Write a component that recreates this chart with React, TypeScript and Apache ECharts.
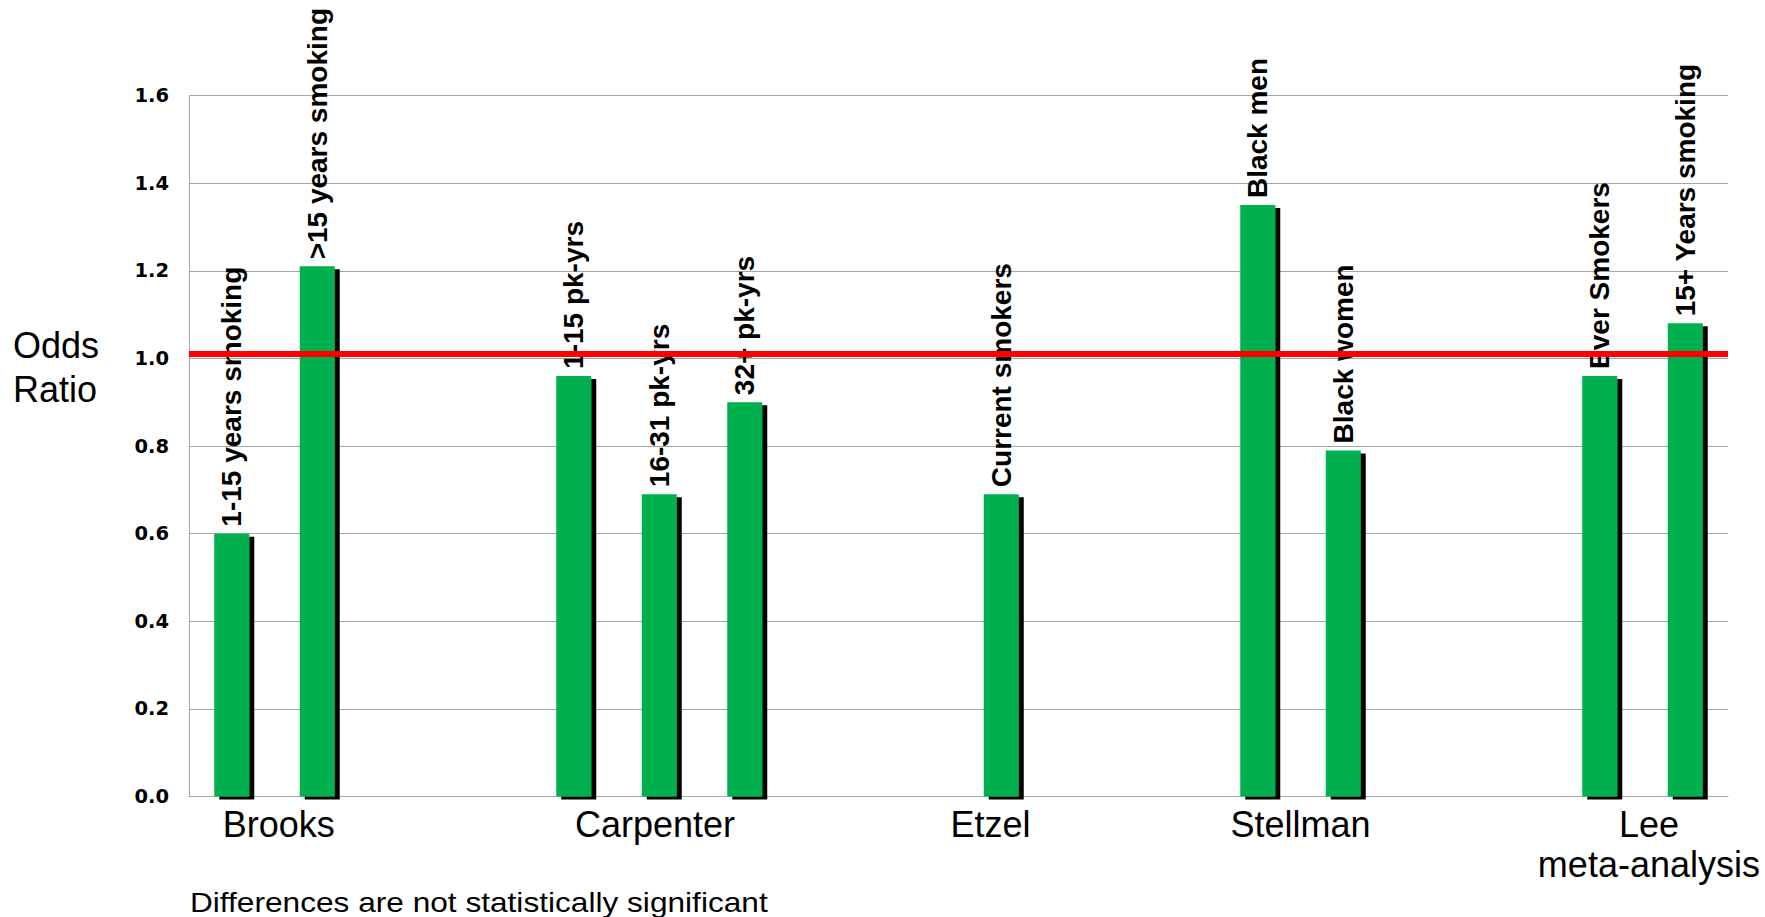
import React, { useEffect, useRef } from 'react';
import * as echarts from 'echarts';

// One slot per bar position along the x axis (gaps have no value)
const slotLabels = [
  '1-15 years smoking', '>15 years smoking', 'gap-1', 'gap-2',
  '1-15 pk-yrs', '16-31 pk-yrs', '32+ pk-yrs', 'gap-3', 'gap-4',
  'Current smokers', 'gap-5', 'gap-6',
  'Black men', 'Black women', 'gap-7', 'gap-8',
  'Ever Smokers', '15+ Years smoking',
];
const oddsRatios = [
  0.60, 1.21, null, null,
  0.96, 0.69, 0.90, null, null,
  0.69, null, null,
  1.35, 0.79, null, null,
  0.96, 1.08,
];

// Study group labels and where they sit, in slot units
const studyNames = ['Brooks', 'Carpenter', 'Etzel', 'Stellman', 'Lee\nmeta-analysis'];
const studyCenters = [1.05, 5.45, 9.375, 13, 17.075];

const yTicks = { min: 0, max: 1.6, step: 0.2 };
const referenceOR = 1.008;

const App: React.FC = () => {
  const ref = useRef<HTMLDivElement>(null);

  useEffect(() => {
    document.body.style.margin = '0';
    document.body.style.overflow = 'hidden';
    if (!ref.current) return;
    const chart = echarts.init(ref.current, undefined, { renderer: 'svg' });
    const arial = "'Liberation Sans', Arial, sans-serif";
    chart.setOption({
      animation: false,
      backgroundColor: '#ffffff',
      grid: { left: 189, right: 37, top: 95.5, bottom: 120.5, containLabel: false },
      xAxis: [
        {
          type: 'category',
          data: slotLabels,
          axisLine: { show: true, lineStyle: { color: '#a6a6a6', width: 1 } },
          axisTick: { show: false },
          axisLabel: { show: false },
          splitLine: { show: false },
        },
        {
          type: 'value',
          position: 'bottom',
          min: 0,
          max: slotLabels.length,
          interval: 0.025,
          axisLine: { show: false },
          axisTick: { show: false },
          splitLine: { show: false },
          axisLabel: {
            show: true,
            showMinLabel: true,
            showMaxLabel: true,
            margin: 8,
            fontFamily: arial,
            fontSize: 36,
            lineHeight: 40,
            color: '#000',
            verticalAlign: 'top',
            formatter: (v: number) => {
              const i = studyCenters.findIndex((c) => Math.abs(c - v) < 1e-6);
              return i >= 0 ? studyNames[i] : '';
            },
          },
        },
      ],
      yAxis: {
        type: 'value',
        min: yTicks.min,
        max: yTicks.max,
        interval: yTicks.step,
        axisLine: { show: true, lineStyle: { color: '#a6a6a6', width: 1 } },
        axisTick: { show: false },
        splitLine: { show: true, lineStyle: { color: '#a6a6a6', width: 1 } },
        axisLabel: {
          margin: 20,
          fontFamily: "'DejaVu Sans', sans-serif",
          fontWeight: 'bold',
          fontSize: 19.5,
          color: '#000',
          formatter: (v: number) => v.toFixed(1),
        },
      },
      series: [
        {
          type: 'bar',
          xAxisIndex: 0,
          yAxisIndex: 0,
          data: oddsRatios,
          barWidth: 35,
          itemStyle: {
            color: '#00b050',
            shadowColor: '#000000',
            shadowBlur: 0,
            shadowOffsetX: 5,
            shadowOffsetY: 3,
          },
          label: {
            show: true,
            position: 'top',
            rotate: 90,
            align: 'left',
            verticalAlign: 'middle',
            distance: 7,
            fontFamily: arial,
            fontWeight: 'bold',
            fontSize: 28,
            color: '#000',
            formatter: (p: any) => slotLabels[p.dataIndex],
          },
          markLine: {
            silent: true,
            symbol: 'none',
            label: { show: false },
            lineStyle: { color: '#ff0000', width: 6, type: 'solid' },
            data: [{ yAxis: referenceOR }],
          },
        },
      ],
      graphic: [
        {
          type: 'text',
          style: {
            x: 13,
            y: 367,
            text: 'Odds\nRatio',
            font: `36px ${arial}`,
            lineHeight: 44,
            fill: '#000',
            textAlign: 'left',
            textVerticalAlign: 'middle',
          },
        },
        {
          type: 'text',
          x: 190,
          y: 902,
          scaleX: 1.13,
          style: {
            x: 0,
            y: 0,
            text: 'Differences are not statistically significant',
            font: `28px ${arial}`,
            fill: '#000',
            textAlign: 'left',
            textVerticalAlign: 'middle',
          },
        },
      ],
    });
    return () => chart.dispose();
  }, []);

  return <div ref={ref} style={{ width: 1765, height: 917 }} />;
};

export default App;
